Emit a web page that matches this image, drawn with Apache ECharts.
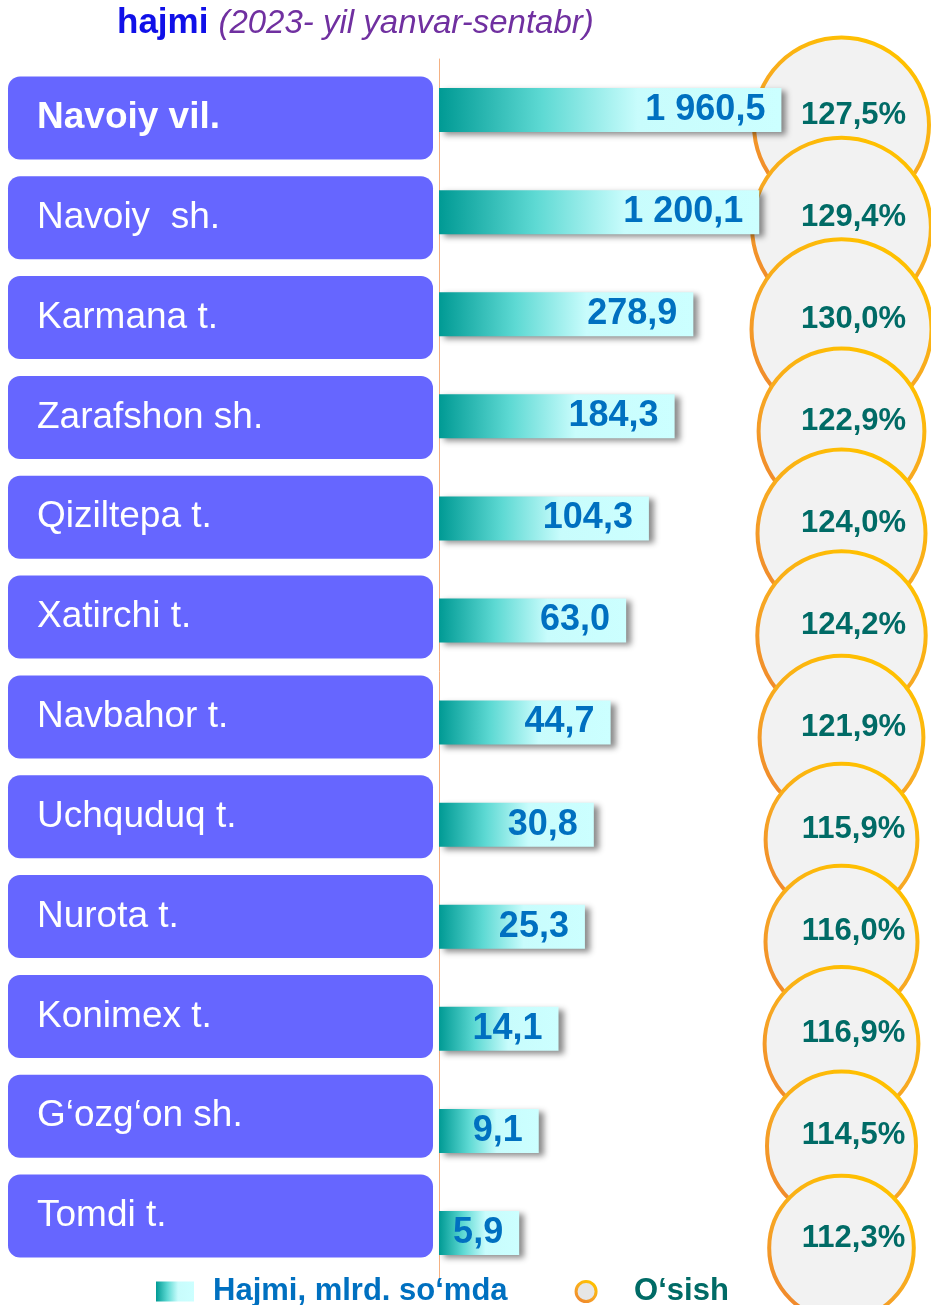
<!DOCTYPE html>
<html>
<head>
<meta charset="utf-8">
<script src="https://cdn.jsdelivr.net/npm/echarts@6/dist/echarts.min.js"></script>
<style>
  html, body { margin: 0; padding: 0; background: #fff; }
  #chart { width: 931px; height: 1305px; }
</style>
</head>
<body>
<div id="chart"></div>
<script>
var districts = ['Navoiy vil.', 'Navoiy  sh.', 'Karmana t.', 'Zarafshon sh.', 'Qiziltepa t.', 'Xatirchi t.',
                 'Navbahor t.', 'Uchquduq t.', 'Nurota t.', 'Konimex t.', 'G‘ozg‘on sh.', 'Tomdi t.'];
var hajmi = [1960.5, 1200.1, 278.9, 184.3, 104.3, 63.0, 44.7, 30.8, 25.3, 14.1, 9.1, 5.9];
var osish = [127.5, 129.4, 130.0, 122.9, 124.0, 124.2, 121.9, 115.9, 116.0, 116.9, 114.5, 112.3];
var hajmiName = 'Hajmi, mlrd. so‘mda';
var osishName = 'O‘sish';

var FONT = '"Liberation Sans", Arial, sans-serif';

// 1 960,5 ko'rinishida
function fmt(v) {
    var s = v.toFixed(1).split('.');
    return s[0].replace(/\B(?=(\d{3})+(?!\d))/g, ' ') + ',' + s[1];
}

var chart = echarts.init(document.getElementById('chart'));

var option = {
    backgroundColor: '#fff',
    animation: false,
    title: {
        text: '{a|hajmi}  {b|(2023- yil yanvar-sentabr)}',
        left: 112,
        top: 1,
        textStyle: {
            fontWeight: 'normal',
            rich: {
                a: { fontFamily: FONT, fontSize: 35, fontWeight: 'bold', color: '#1010e8' },
                b: { fontFamily: FONT, fontSize: 33, fontStyle: 'italic', fontWeight: 'normal', color: '#7030a0' }
            }
        }
    },
    legend: {
        left: 151,
        top: 1271,
        itemWidth: 38,
        itemHeight: 20,
        itemGap: 67,
        selectedMode: false,
        data: [
            {
                name: hajmiName,
                icon: 'rect',
                itemStyle: { shadowBlur: 0, shadowOffsetX: 0, shadowOffsetY: 0 },
                textStyle: { color: '#0070c0', padding: [0, 0, 0, 14] }
            },
            {
                name: osishName,
                icon: 'circle',
                itemStyle: { borderWidth: 3, color: '#e6e6e6' },
                textStyle: { color: '#006b66', padding: [0, 0, 0, 24] }
            }
        ],
        textStyle: { fontFamily: FONT, fontSize: 31, fontWeight: 'bold' }
    },
    grid: [
        { left: 439, width: 416, top: 59, bottom: 21 },   // ustunlar
        { left: 752, width: 180, top: 74, bottom: 6 },    // doiralar
        { left: 433, width: 10, top: 68, bottom: 39 }     // nomlar
    ],
    xAxis: [
        { gridIndex: 0, type: 'log', logBase: 10, min: 1, max: 10000, show: false },
        { gridIndex: 1, type: 'category', data: [osishName], show: false },
        { gridIndex: 2, type: 'value', show: false }
    ],
    yAxis: [
        {
            gridIndex: 0, type: 'category', data: districts, inverse: true,
            axisLine: { show: true, lineStyle: { color: '#f4b183', width: 1 } },
            axisTick: { show: false },
            axisLabel: { show: false },
            splitLine: { show: false }
        },
        {
            gridIndex: 1, type: 'category', data: districts, inverse: true, show: false
        },
        {
            gridIndex: 2, type: 'category', data: districts, inverse: true,
            axisLine: { show: false },
            axisTick: { show: false },
            splitLine: { show: false },
            axisLabel: {
                margin: 425,
                align: 'left',
                verticalAlign: 'middle',
                backgroundColor: '#6666ff',
                borderRadius: 12,
                width: 396,
                height: 83,
                padding: [0, 0, 0, 29],
                formatter: function (val, idx) {
                    return idx === 0 ? '{b|' + val + '}' : '{n|' + val + '}';
                },
                rich: {
                    b: { fontFamily: FONT, fontSize: 37, fontWeight: 'bold', color: '#fff', lineHeight: 83 },
                    n: { fontFamily: FONT, fontSize: 37, color: '#fff', lineHeight: 83 }
                }
            }
        }
    ],
    series: [
        {
            name: osishName,
            type: 'scatter',
            xAxisIndex: 1,
            yAxisIndex: 1,
            z: 1,
            symbol: 'circle',
            data: osish.map(function (p, i) { return [osishName, districts[i], p]; }),
            symbolSize: function (val) { return 2 * (val[2] - 40); },
            itemStyle: {
                color: '#f2f2f2',
                opacity: 1,
                borderWidth: 4,
                borderColor: new echarts.graphic.LinearGradient(0, 1, 0.6, 0, [
                    { offset: 0, color: '#ed7d31' },
                    { offset: 0.55, color: '#f7a823' },
                    { offset: 1, color: '#ffc000' }
                ])
            },
            label: {
                show: true,
                position: 'inside',
                offset: [12, -10],
                formatter: function (p) { return p.value[2].toFixed(1).replace('.', ',') + '%'; },
                fontFamily: FONT,
                fontSize: 31,
                fontWeight: 'bold',
                color: '#006b66'
            },
            emphasis: { disabled: true }
        },
        {
            name: hajmiName,
            type: 'bar',
            xAxisIndex: 0,
            yAxisIndex: 0,
            z: 3,
            barWidth: 44,
            data: hajmi,
            itemStyle: {
                color: new echarts.graphic.LinearGradient(0, 0, 1, 0, [
                    { offset: 0, color: '#009a94' },
                    { offset: 0.3, color: '#5dd9d3' },
                    { offset: 0.58, color: '#c8fcfc' },
                    { offset: 1, color: '#ccffff' }
                ]),
                shadowBlur: 6,
                shadowColor: 'rgba(0,0,0,0.45)',
                shadowOffsetX: 5,
                shadowOffsetY: 3
            },
            label: {
                show: true,
                position: 'insideRight',
                distance: 16,
                formatter: function (p) { return fmt(p.value); },
                fontFamily: FONT,
                fontSize: 36,
                fontWeight: 'bold',
                color: '#0070c0'
            },
            emphasis: { disabled: true }
        }
    ]
};

chart.setOption(option);
</script>
</body>
</html>
